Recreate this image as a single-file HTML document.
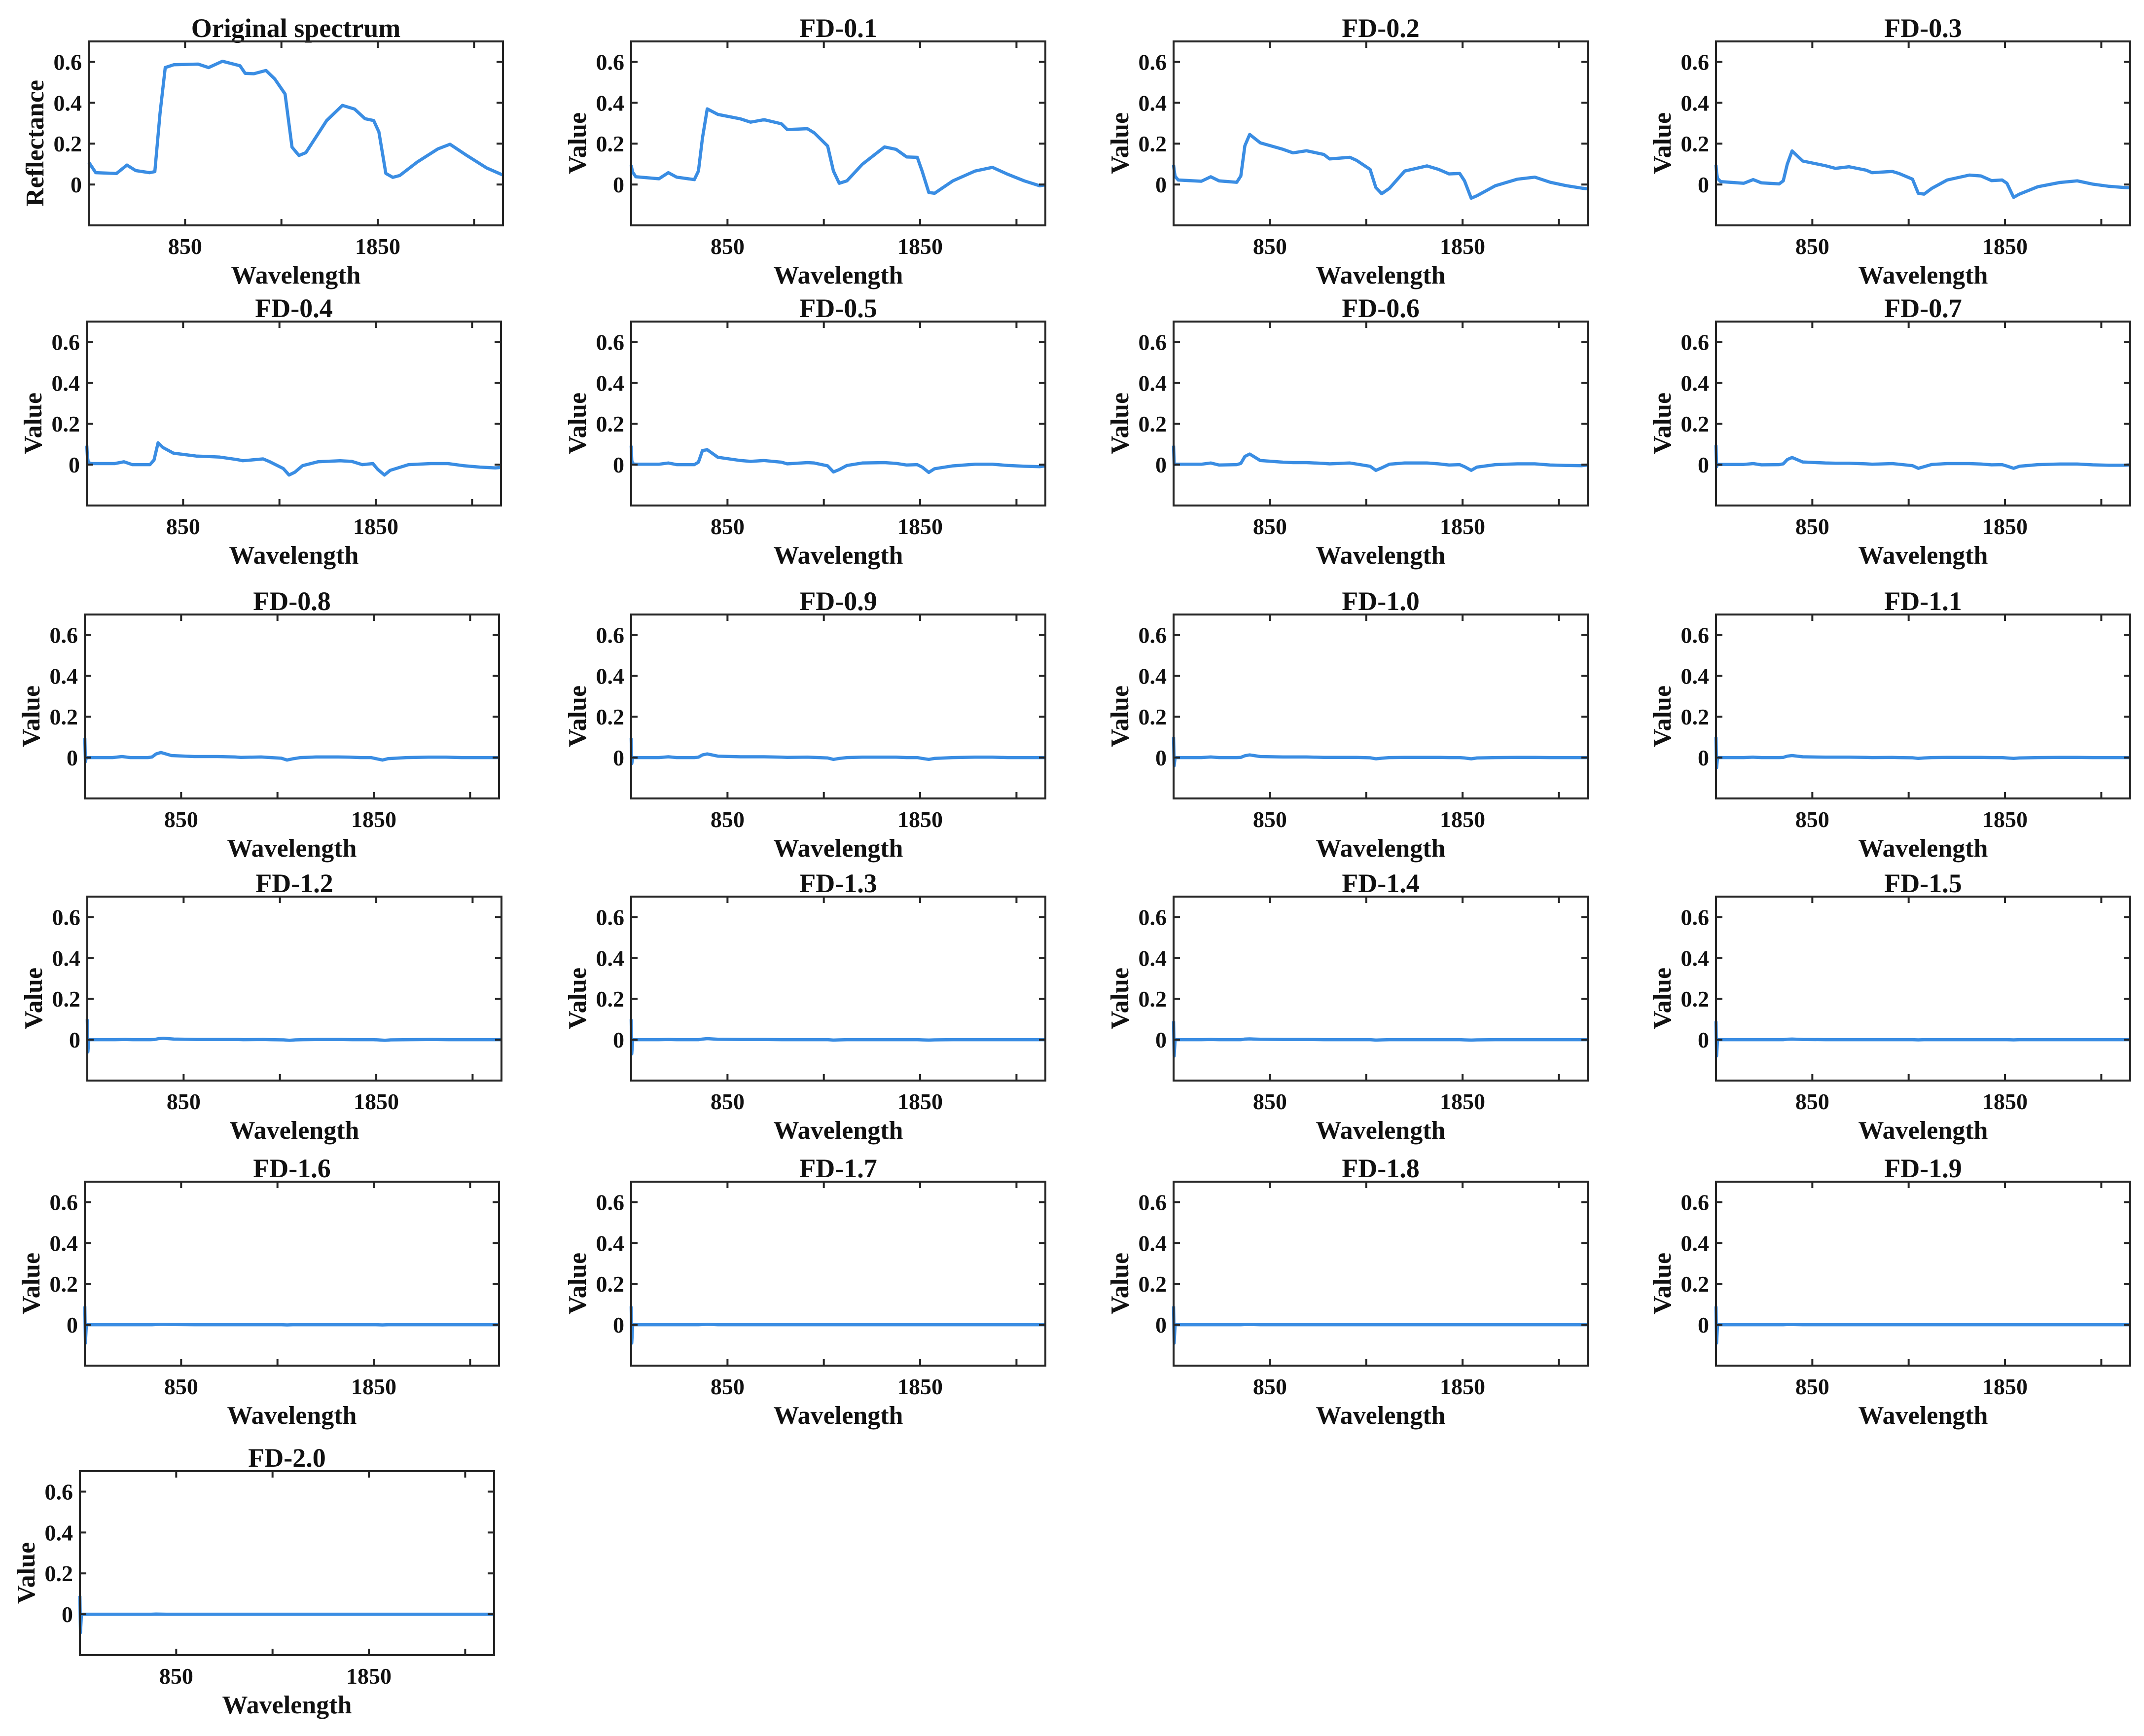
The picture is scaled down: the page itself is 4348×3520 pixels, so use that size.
<!DOCTYPE html>
<html><head><meta charset="utf-8"><style>
html,body{margin:0;padding:0;background:#fff;}
svg{display:block;}
text{font-family:"Liberation Serif",serif;font-weight:bold;fill:#111;}
</style></head><body>
<svg id="fig" width="4348" height="3520" viewBox="0 0 4348 3520" xmlns="http://www.w3.org/2000/svg"></svg>
<script>
const titles = ["Original spectrum","FD-0.1","FD-0.2","FD-0.3","FD-0.4","FD-0.5","FD-0.6","FD-0.7","FD-0.8","FD-0.9","FD-1.0","FD-1.1","FD-1.2","FD-1.3","FD-1.4","FD-1.5","FD-1.6","FD-1.7","FD-1.8","FD-1.9","FD-2.0"];
const xTicks = [850,1350,1850,2350];
const xTickLabels = ["850","","1850",""];
const yTicks = [0,0.2,0.4,0.6];
const yTickLabels = ["0","0.2","0.4","0.6"];
const origWl = [350,386,494,548,594,666,693,720,747,792,918,972,1044,1135,1162,1207,1270,1315,1369,1405,1441,1477,1585,1667,1730,1784,1829,1856,1892,1928,1964,2054,2162,2225,2306,2415,2500];
const origVal = [0.109,0.058,0.054,0.095,0.068,0.058,0.063,0.35,0.572,0.586,0.589,0.572,0.603,0.581,0.544,0.542,0.558,0.517,0.443,0.183,0.142,0.156,0.313,0.387,0.369,0.322,0.313,0.257,0.054,0.035,0.044,0.109,0.174,0.197,0.146,0.081,0.046];
const fdWl = [350,353,358,374,494,543,586,678,699,720,745,800,918,970,1040,1130,1160,1265,1300,1370,1400,1430,1470,1550,1665,1725,1780,1835,1860,1895,1925,2020,2135,2225,2305,2390,2470,2500];
const fd01 = [0.095,0.08,0.06,0.038,0.028,0.058,0.036,0.024,0.066,0.228,0.37,0.343,0.321,0.305,0.317,0.297,0.269,0.273,0.253,0.188,0.066,0.006,0.018,0.099,0.184,0.172,0.135,0.133,0.066,-0.039,-0.043,0.018,0.066,0.084,0.050,0.018,-0.006,-0.002];
const fd02 = [0.095,0.07,0.04,0.022,0.016,0.038,0.018,0.011,0.042,0.19,0.245,0.204,0.172,0.155,0.165,0.147,0.125,0.133,0.118,0.074,-0.015,-0.045,-0.019,0.066,0.091,0.074,0.052,0.054,0.018,-0.067,-0.055,-0.006,0.026,0.036,0.011,-0.006,-0.018,-0.021];
const fd03 = [0.095,0.06,0.03,0.014,0.006,0.024,0.008,0.003,0.018,0.10,0.164,0.115,0.092,0.079,0.087,0.070,0.058,0.064,0.054,0.026,-0.043,-0.047,-0.019,0.022,0.046,0.042,0.019,0.022,0.006,-0.063,-0.047,-0.011,0.010,0.018,0.002,-0.009,-0.015,-0.016];
const fd04 = [0.093,0.04,0.01,0.005,0.005,0.014,0,0,0.023,0.107,0.084,0.056,0.042,0.040,0.037,0.025,0.019,0.028,0.014,-0.019,-0.051,-0.037,-0.005,0.014,0.019,0.016,0,0.005,-0.023,-0.051,-0.028,0,0.005,0.005,-0.005,-0.012,-0.016,-0.014];
const fd05 = [0.093,0.02,0.004,0.002,0.002,0.008,0,0,0.012,0.069,0.073,0.036,0.020,0.016,0.020,0.012,0.004,0.010,0.008,-0.006,-0.036,-0.024,-0.004,0.008,0.010,0.006,-0.002,0,-0.012,-0.038,-0.020,-0.006,0.002,0.002,-0.004,-0.008,-0.010,-0.006];
const fd06 = [0.093,0,0.002,0.002,0.002,0.008,-0.002,0,0.006,0.040,0.052,0.020,0.012,0.010,0.010,0.006,0.004,0.008,0.003,-0.008,-0.028,-0.016,0.002,0.008,0.008,0.004,-0.002,0,-0.010,-0.028,-0.012,0,0.004,0.004,-0.002,-0.004,-0.005,-0.002];
const fd07 = [0.095,-0.01,0.001,0.001,0.001,0.005,-0.001,0,0.004,0.025,0.035,0.013,0.008,0.007,0.007,0.004,0.002,0.005,0.002,-0.005,-0.018,-0.010,0.001,0.005,0.005,0.003,-0.001,0,-0.007,-0.018,-0.008,0,0.003,0.003,-0.001,-0.003,-0.003,-0.001];
const fd08 = [0.095,-0.02,0,0,0,0.005,0,0,0.003,0.018,0.025,0.010,0.005,0.005,0.005,0.003,0.001,0.003,0.001,-0.003,-0.012,-0.006,0,0.003,0.003,0.002,0,0,-0.005,-0.012,-0.005,0,0.002,0.002,0,0,0,0];
const fd09 = [0.095,-0.03,0,0,0,0.004,0,0,0.002,0.013,0.018,0.007,0.004,0.004,0.004,0.002,0.001,0.002,0.001,-0.002,-0.009,-0.004,0,0.002,0.002,0.002,0,0,-0.004,-0.009,-0.004,0,0.002,0.002,0,0,0,0];
const fd10 = [0.10,-0.04,0,0,0,0.003,0,0,0.001,0.009,0.013,0.005,0.003,0.003,0.003,0.001,0.001,0.001,0.001,-0.001,-0.006,-0.003,0,0.001,0.001,0.001,0,0,-0.002,-0.006,-0.002,0,0.001,0.001,0,0,0,0];
const fd11 = [0.10,-0.05,0,0,0,0.002,0,0,0.001,0.007,0.010,0.004,0.002,0.002,0.002,0.001,0,0.001,0,-0.001,-0.004,-0.002,0,0.001,0.001,0.001,0,0,-0.002,-0.004,-0.002,0,0.001,0.001,0,0,0,0];
const fd12 = [0.10,-0.06,0,0,0,0.001,0,0,0.001,0.005,0.007,0.003,0.001,0.001,0.001,0.001,0,0.001,0,-0.001,-0.003,-0.001,0,0.001,0.001,0,0,0,-0.001,-0.003,-0.001,0,0.001,0,0,0,0,0];
const fd13 = [0.10,-0.07,0,0,0,0.001,0,0,0,0.003,0.005,0.002,0.001,0.001,0.001,0,0,0,0,0,-0.002,-0.001,0,0,0,0,0,0,-0.001,-0.002,-0.001,0,0,0,0,0,0,0];
const fd14 = [0.09,-0.08,0,0,0,0.001,0,0,0,0.003,0.004,0.002,0.001,0.001,0.001,0,0,0,0,0,-0.002,-0.001,0,0,0,0,0,0,-0.001,-0.002,-0.001,0,0,0,0,0,0,0];
const fd15 = [0.09,-0.08,0,0,0,0,0,0,0,0.002,0.003,0.001,0,0,0,0,0,0,0,0,-0.001,0,0,0,0,0,0,0,0,-0.001,0,0,0,0,0,0,0,0];
const fd16 = [0.09,-0.09,0,0,0,0,0,0,0,0.001,0.002,0.001,0,0,0,0,0,0,0,0,-0.001,0,0,0,0,0,0,0,0,-0.001,0,0,0,0,0,0,0,0];
const fd17 = [0.09,-0.09,0,0,0,0,0,0,0,0.001,0.002,0,0,0,0,0,0,0,0,0,0,0,0,0,0,0,0,0,0,0,0,0,0,0,0,0,0,0];
const fd18 = [0.09,-0.09,0,0,0,0,0,0,0,0.001,0.001,0,0,0,0,0,0,0,0,0,0,0,0,0,0,0,0,0,0,0,0,0,0,0,0,0,0,0];
const fd19 = [0.09,-0.09,0,0,0,0,0,0,0,0.001,0.001,0,0,0,0,0,0,0,0,0,0,0,0,0,0,0,0,0,0,0,0,0,0,0,0,0,0,0];
const fd20 = [0.09,-0.09,0,0,0,0,0,0,0,0,0.001,0,0,0,0,0,0,0,0,0,0,0,0,0,0,0,0,0,0,0,0,0,0,0,0,0,0,0];
const fdSeries = [fd01,fd02,fd03,fd04,fd05,fd06,fd07,fd08,fd09,fd10,fd11,fd12,fd13,fd14,fd15,fd16,fd17,fd18,fd19,fd20];

const NS = "http://www.w3.org/2000/svg";
const svg = document.getElementById("fig");
const colLeft = [1280,2380,3480];
const col1Left = [180,176,172,177,172,162];
const rowTop = [84,652,1246,1818,2396,2983];
const W = 840, H = 373, XMIN = 350, XMAX = 2500, YMIN = -0.2, YMAX = 0.7;

function mk(tag, attrs, parent){
  const el = document.createElementNS(NS, tag);
  for (const k in attrs) el.setAttribute(k, attrs[k]);
  parent.appendChild(el);
  return el;
}

for (let i = 0; i < titles.length; i++){
  const row = Math.floor(i/4), col = i%4;
  const L = col === 0 ? col1Left[row] : colLeft[col-1];
  const T = rowTop[row];
  const sx = v => L + (v - XMIN) / (XMAX - XMIN) * W;
  const sy = v => T + (YMAX - v) / (YMAX - YMIN) * H;
  const g = mk("g", {}, svg);
  
  

  const t = mk("text", {x: L + W/2, y: T - 9, "text-anchor": "middle", "font-size": 54}, g);
  t.textContent = titles[i];
  
  

  const wl = i === 0 ? origWl : fdWl;
  const vals = i === 0 ? origVal : fdSeries[i-1];
  let d = "";
  for (let k = 0; k < wl.length; k++) d += (k ? "L" : "M") + sx(wl[k]).toFixed(1) + "," + sy(vals[k]).toFixed(1);
  const p = mk("path", {d: d, fill: "none", stroke: "#3a8de3", "stroke-width": 6.5, "stroke-linejoin": "round"}, g);
  
  

  for (let k = 0; k < xTicks.length; k++){
    const x = sx(xTicks[k]);
    const tk = mk("path", {d: `M${x},${T}v13M${x},${T+H}v-13`, stroke: "#262626", "stroke-width": 4}, g);
    
    
    if (xTickLabels[k]){
      const tl = mk("text", {x: x, y: T + H + 58, "text-anchor": "middle", "font-size": 46}, g);
      tl.textContent = xTickLabels[k];
      
      
    }
  }
  for (let k = 0; k < yTicks.length; k++){
    const y = sy(yTicks[k]);
    const tk = mk("path", {d: `M${L},${y}h13M${L+W},${y}h-13`, stroke: "#262626", "stroke-width": 4}, g);
    
    
    const tl = mk("text", {x: L - 14, y: y + 16, "text-anchor": "end", "font-size": 46}, g);
    tl.textContent = yTickLabels[k];
    
    
  }
  const fr = mk("rect", {x: L, y: T, width: W, height: H, fill: "none", stroke: "#262626", "stroke-width": 4}, g);
  
  

  const xl = mk("text", {x: L + W/2, y: T + H + 118, "text-anchor": "middle", "font-size": 52}, g);
  xl.textContent = "Wavelength";
  
  

  const cy = T + H/2 + 20;
  const yl = mk("text", {x: 0, y: 0, "text-anchor": "middle", "font-size": 52, transform: `translate(${L - 92},${cy}) rotate(-90)`}, g);
  yl.textContent = i === 0 ? "Reflectance" : "Value";
  
  
}
</script>
</body></html>
